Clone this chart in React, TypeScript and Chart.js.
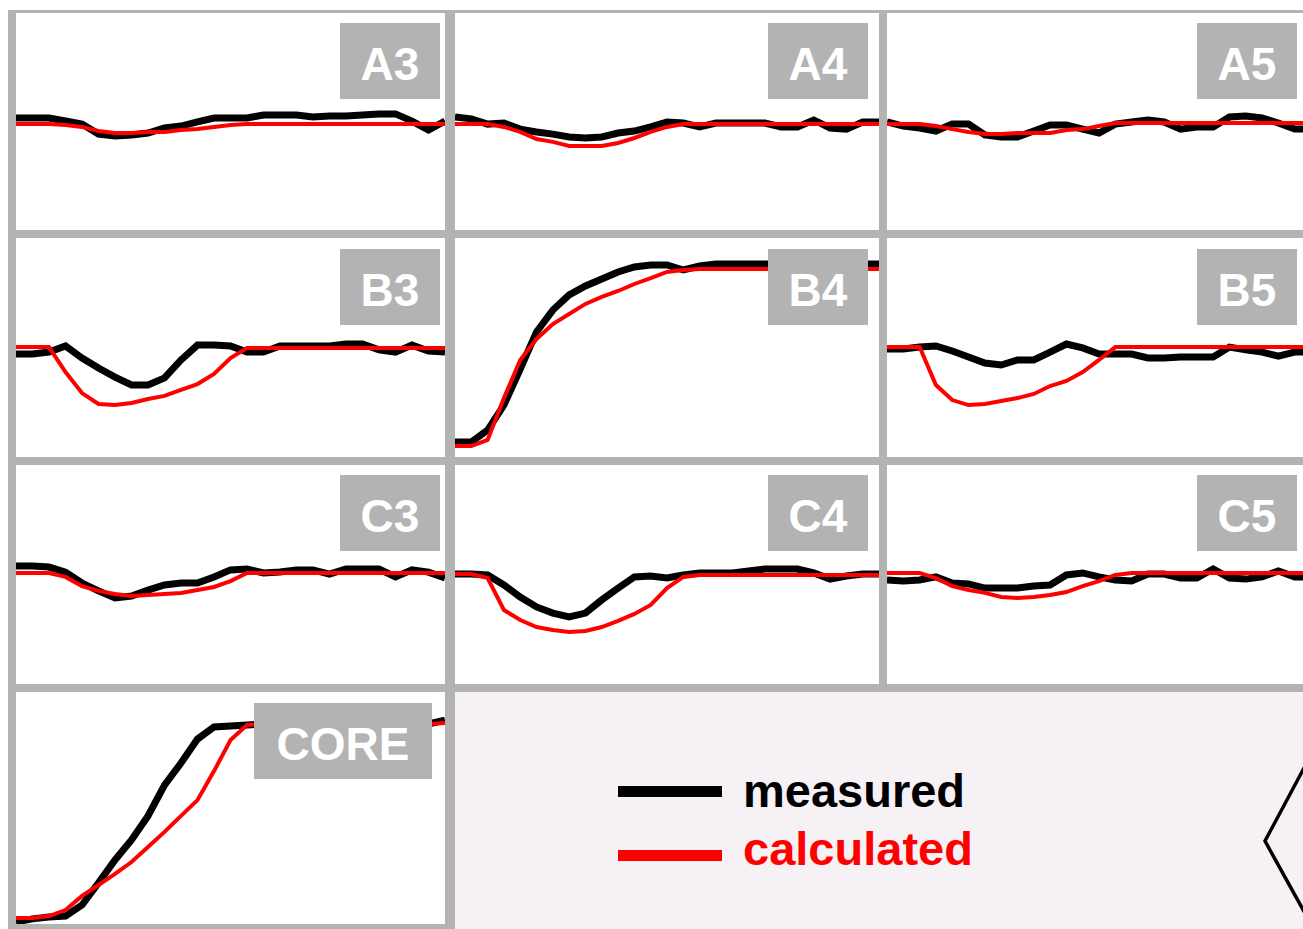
import React, { useEffect, useRef } from "react";
import { Chart, registerables } from "chart.js";

Chart.register(...registerables);

// ---------- data (relative signal, % of panel range) ----------
const timeSteps = [0, 1, 2, 3, 4, 5, 6, 7, 8, 9, 10, 11, 12, 13, 14, 15, 16, 17, 18, 19, 20, 21, 22, 23, 24, 25, 26];

const panelNames = ["A3", "A4", "A5", "B3", "B4", "B5", "C3", "C4", "C5", "CORE"];
const seriesNames = ["measured", "calculated"];

const a3Measured = [51.6, 51.6, 51.6, 50.2, 48.8, 44.2, 43.3, 43.8, 44.7, 47.0, 47.9, 49.8, 51.6, 51.6, 51.6, 53.0, 53.0, 53.0, 52.1, 52.5, 52.5, 53.0, 53.5, 53.5, 50.2, 46.1, 50.2];
const a3Calculated = [48.8, 48.8, 48.8, 48.4, 47.5, 45.6, 44.7, 44.7, 45.2, 45.2, 46.1, 46.5, 47.5, 48.4, 48.8, 48.8, 48.8, 48.8, 48.8, 48.8, 48.8, 48.8, 48.8, 48.8, 48.8, 48.8, 48.8];

const a4Measured = [52.1, 51.2, 48.8, 49.3, 46.5, 45.2, 44.2, 42.9, 42.4, 42.9, 44.7, 45.6, 47.5, 49.8, 49.3, 47.5, 49.3, 49.3, 49.3, 49.3, 47.5, 47.5, 50.7, 47.0, 46.5, 49.8, 49.8];
const a4Calculated = [48.8, 48.8, 48.8, 47.5, 45.2, 41.9, 40.6, 38.7, 38.7, 38.7, 40.1, 42.4, 45.2, 47.5, 48.8, 48.8, 48.8, 48.8, 48.8, 48.8, 48.8, 48.8, 48.8, 48.8, 48.8, 48.8, 48.8];

const a5Measured = [49.8, 47.9, 47.0, 45.6, 48.8, 48.8, 43.8, 42.9, 42.9, 45.6, 48.4, 48.4, 46.5, 44.7, 48.8, 49.8, 50.7, 49.8, 46.5, 47.5, 47.5, 52.1, 52.5, 51.6, 49.3, 46.5, 46.5];
const a5Calculated = [48.8, 48.8, 48.8, 47.9, 46.5, 45.2, 44.2, 44.2, 44.7, 44.7, 44.7, 46.1, 46.5, 47.9, 49.3, 49.3, 49.3, 49.3, 49.3, 49.3, 49.3, 49.3, 49.3, 49.3, 49.3, 49.3, 49.3];

const b3Measured = [47.0, 47.0, 47.9, 50.7, 45.2, 40.6, 36.5, 32.9, 32.9, 36.1, 44.3, 51.1, 51.1, 50.7, 47.9, 47.9, 50.7, 50.7, 50.7, 50.7, 51.6, 51.6, 48.9, 47.9, 51.1, 48.4, 47.9];
const b3Calculated = [50.2, 50.2, 50.2, 38.8, 29.2, 24.2, 23.7, 24.7, 26.5, 27.9, 30.6, 33.3, 37.9, 45.2, 49.8, 49.8, 49.8, 49.8, 49.8, 49.8, 49.8, 49.8, 49.8, 49.8, 49.8, 49.8, 49.8];

const b4Measured = [6.8, 6.8, 12.3, 23.7, 40.2, 57.1, 67.1, 74.0, 78.1, 81.3, 84.5, 86.8, 87.7, 87.7, 85.4, 87.2, 88.1, 88.1, 88.1, 88.1, 88.1, 88.1, 88.1, 88.1, 88.1, 88.1, 88.1];
const b4Calculated = [5.0, 5.0, 7.8, 26.9, 44.3, 53.9, 60.7, 65.3, 69.9, 73.1, 75.8, 79.0, 81.7, 84.5, 85.4, 85.8, 85.8, 85.8, 85.8, 85.8, 85.8, 85.8, 85.8, 85.8, 85.8, 85.8, 85.8];

const b5Measured = [49.3, 49.3, 50.2, 50.7, 48.4, 45.7, 42.9, 42.0, 44.3, 44.3, 47.9, 51.6, 49.8, 47.0, 47.0, 47.0, 45.2, 45.2, 45.7, 45.7, 45.7, 50.2, 48.9, 47.9, 46.1, 47.9, 47.9];
const b5Calculated = [50.2, 50.2, 50.2, 32.9, 26.0, 23.7, 24.2, 25.6, 26.9, 28.8, 32.4, 34.7, 38.8, 44.3, 50.2, 50.2, 50.2, 50.2, 50.2, 50.2, 50.2, 50.2, 50.2, 50.2, 50.2, 50.2, 50.2];

const c3Measured = [53.9, 53.9, 53.4, 51.1, 46.1, 42.5, 39.3, 40.2, 42.9, 45.2, 46.1, 46.1, 48.9, 52.1, 52.5, 50.7, 51.1, 52.1, 52.1, 50.2, 52.5, 52.5, 52.5, 48.9, 52.1, 51.1, 48.4];
const c3Calculated = [50.7, 50.7, 50.7, 48.9, 44.7, 42.5, 41.1, 40.2, 40.6, 41.1, 41.6, 42.9, 44.3, 47.0, 50.7, 50.7, 50.7, 50.7, 50.7, 50.7, 50.7, 50.7, 50.7, 50.7, 50.7, 50.7, 50.7];

const c4Measured = [50.2, 50.2, 49.8, 45.2, 39.7, 35.2, 32.4, 30.6, 32.4, 38.4, 43.8, 48.9, 49.3, 48.4, 49.8, 50.7, 50.7, 50.7, 51.6, 52.5, 52.5, 52.5, 50.7, 47.9, 49.3, 50.2, 50.2];
const c4Calculated = [50.2, 50.2, 48.4, 33.8, 29.2, 26.0, 24.7, 23.7, 24.2, 26.0, 28.8, 32.0, 36.1, 43.8, 48.9, 49.8, 49.8, 49.8, 49.8, 49.8, 49.8, 49.8, 49.8, 49.8, 49.8, 49.8, 49.8];

const c5Measured = [47.5, 47.0, 47.5, 48.9, 46.1, 45.7, 43.8, 43.8, 43.8, 44.7, 45.2, 49.8, 50.7, 48.9, 47.5, 47.0, 50.2, 50.2, 48.4, 48.4, 52.5, 48.4, 47.9, 48.9, 51.6, 48.9, 48.9];
const c5Calculated = [50.7, 50.7, 50.7, 48.4, 44.7, 42.9, 41.6, 39.7, 39.3, 39.7, 40.6, 42.0, 44.7, 47.0, 49.8, 50.7, 50.7, 50.7, 50.7, 50.7, 50.7, 50.7, 50.7, 50.7, 50.7, 50.7, 50.7];

const coreMeasured = [0.9, 2.2, 3.0, 3.4, 8.2, 17.7, 27.6, 36.2, 46.6, 59.9, 69.4, 79.7, 84.9, 85.3, 85.8, 86.2, 86.2, 86.2, 86.2, 86.2, 86.2, 86.2, 86.2, 86.2, 86.2, 86.2, 87.9];
const coreCalculated = [2.6, 2.6, 3.4, 6.0, 12.1, 16.8, 21.6, 26.7, 33.2, 39.7, 46.6, 53.4, 65.9, 79.3, 85.8, 86.2, 86.2, 86.2, 86.2, 86.2, 86.2, 86.2, 86.2, 86.2, 86.2, 86.2, 86.6];

const measuredSeries = [a3Measured, a4Measured, a5Measured, b3Measured, b4Measured, b5Measured, c3Measured, c4Measured, c5Measured, coreMeasured];
const calculatedSeries = [a3Calculated, a4Calculated, a5Calculated, b3Calculated, b4Calculated, b5Calculated, c3Calculated, c4Calculated, c5Calculated, coreCalculated];

// ---------- layout (positions / styles) ----------
const GRAY = "#b3b3b3";
const LEGEND_BG = "#f5f1f5";
const COLS = [
  { left: 16, width: 429 },
  { left: 455, width: 424 },
  { left: 887, width: 424 },
];
const ROWS = [
  { top: 13, height: 217 },
  { top: 238, height: 219 },
  { top: 465, height: 219 },
  { top: 692, height: 232 },
];
// panel index -> [col,row]
const PANEL_CELLS = [
  [0, 0], [1, 0], [2, 0],
  [0, 1], [1, 1], [2, 1],
  [0, 2], [1, 2], [2, 2],
  [0, 3],
];
const LABEL_BOXES = [
  { left: 340, top: 23, width: 100 }, { left: 768, top: 23, width: 100 }, { left: 1197, top: 23, width: 100 },
  { left: 340, top: 249, width: 100 }, { left: 768, top: 249, width: 100 }, { left: 1197, top: 249, width: 100 },
  { left: 340, top: 475, width: 100 }, { left: 768, top: 475, width: 100 }, { left: 1197, top: 475, width: 100 },
  { left: 254, top: 703, width: 178 },
];

function Panel({ index }: { index: number }) {
  const ref = useRef<HTMLCanvasElement>(null);
  const [c, r] = PANEL_CELLS[index];
  const { left, width } = COLS[c];
  const { top, height } = ROWS[r];

  useEffect(() => {
    if (!ref.current) return;
    const chart = new Chart(ref.current, {
      type: "line",
      data: {
        labels: timeSteps,
        datasets: [
          {
            label: seriesNames[1],
            data: calculatedSeries[index],
            borderColor: "#ff0000",
            borderWidth: 4,
            pointRadius: 0,
            tension: 0,
            fill: false,
            order: 0,
          },
          {
            label: seriesNames[0],
            data: measuredSeries[index],
            borderColor: "#000000",
            borderWidth: 7,
            pointRadius: 0,
            tension: 0,
            fill: false,
            order: 1,
          },
        ],
      },
      options: {
        responsive: false,
        animation: false,
        events: [],
        layout: { padding: 0 },
        plugins: { legend: { display: false }, tooltip: { enabled: false }, title: { display: false } },
        scales: {
          x: { type: "category", display: false, offset: false },
          y: { type: "linear", min: 0, max: 100, display: false },
        },
      },
    });
    return () => chart.destroy();
  }, [index]);

  return (
    <canvas
      ref={ref}
      width={width}
      height={height}
      style={{ position: "absolute", left, top, width, height, display: "block", background: "#ffffff" }}
    />
  );
}

function LabelBox({ index }: { index: number }) {
  const b = LABEL_BOXES[index];
  return (
    <div
      style={{
        position: "absolute",
        left: b.left,
        top: b.top,
        width: b.width,
        height: 76,
        boxSizing: "border-box",
        paddingTop: 6,
        background: GRAY,
        color: "#ffffff",
        fontFamily: "'Liberation Sans', Arial, sans-serif",
        fontWeight: 700,
        fontSize: 46,
        lineHeight: "46px",
        display: "flex",
        alignItems: "center",
        justifyContent: "center",
      }}
    >
      {panelNames[index]}
    </div>
  );
}

export default function App() {
  return (
    <div
      style={{
        position: "absolute",
        left: 0,
        top: 0,
        width: 1303,
        height: 929,
        overflow: "hidden",
        background: "#ffffff",
      }}
    >
      {/* gray frame */}
      <div style={{ position: "absolute", left: 8, top: 10, width: 1320, height: 930, background: GRAY }} />
      {/* legend area */}
      <div style={{ position: "absolute", left: 455, top: 692, width: 870, height: 240, background: LEGEND_BG }} />
      {panelNames.map((_, i) => (
        <Panel key={"p" + i} index={i} />
      ))}
      {panelNames.map((_, i) => (
        <LabelBox key={"l" + i} index={i} />
      ))}
      {/* legend */}
      <div style={{ position: "absolute", left: 618, top: 786, width: 104, height: 11, background: "#000000" }} />
      <div style={{ position: "absolute", left: 618, top: 850, width: 104, height: 11, background: "#ff0000" }} />
      <div
        style={{
          position: "absolute",
          left: 743,
          top: 767,
          fontFamily: "'Liberation Sans', Arial, sans-serif",
          fontWeight: 700,
          fontSize: 47,
          lineHeight: "47px",
          color: "#000000",
          whiteSpace: "nowrap",
        }}
      >
        {seriesNames[0]}
      </div>
      <div
        style={{
          position: "absolute",
          left: 743,
          top: 825,
          fontFamily: "'Liberation Sans', Arial, sans-serif",
          fontWeight: 700,
          fontSize: 47,
          lineHeight: "47px",
          color: "#ff0000",
          whiteSpace: "nowrap",
        }}
      >
        {seriesNames[1]}
      </div>
      {/* partial core map outline */}
      <svg style={{ position: "absolute", left: 1250, top: 740 }} width={70} height={200}>
        <polyline points="62,13 15,101 62,186" fill="none" stroke="#000000" strokeWidth={3.5} />
      </svg>
    </div>
  );
}
